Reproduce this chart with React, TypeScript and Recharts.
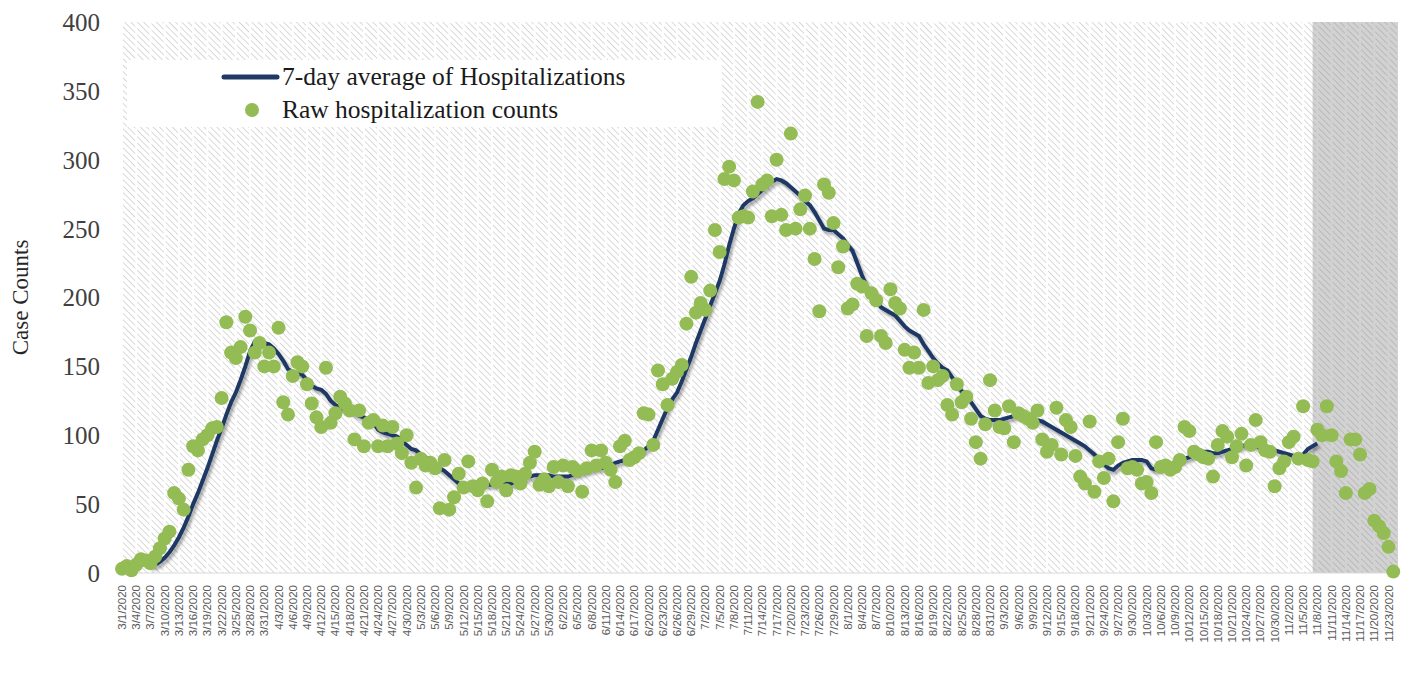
import React from 'react';
import {
  ComposedChart,
  Line,
  Scatter,
  XAxis,
  YAxis,
  CartesianGrid,
  ReferenceArea,
  Label,
} from 'recharts';

// Categories: every day from 3/1/2020 to 11/25/2020
const FIRST_DAY = { year: 2020, month: 3, day: 1 };
const DAY_COUNT = 270;
const dates: string[] = (() => {
  const out: string[] = [];
  const d = new Date(FIRST_DAY.year, FIRST_DAY.month - 1, FIRST_DAY.day, 12);
  for (let i = 0; i < DAY_COUNT; i++) {
    out.push(`${d.getMonth() + 1}/${d.getDate()}/${d.getFullYear()}`);
    d.setDate(d.getDate() + 1);
  }
  return out;
})();

// Raw hospitalization counts
const rawCounts: (number | null)[] = [
  3, 5, 2, 6, 10, 9, 7, 12, 18, 25,
  30, 58, 54, 46, 75, 92, 89, 97, 100, 105,
  106, 127, 182, 160, 156, 164, 186, 176, 160, 167,
  150, 160, 150, 178, 124, 115, 143, 153, 150, 137,
  123, 113, 106, 149, 109, 116, 128, 123, 118, 97,
  118, 92, 109, 111, 92, 107, 92, 106, 94, 87,
  100, 80, 62, 83, 78, 80, 76, 47, 82, 46,
  55, 72, 62, 81, 63, 60, 65, 52, 75, 66,
  70, 60, 71, 70, 65, 72, 80, 88, 64, 68,
  63, 77, 66, 78, 63, 77, 74, 59, 76, 89,
  78, 89, 80, 75, 66, 92, 96, 82, 84, 87,
  116, 115, 93, 147, 137, 122, 141, 146, 151, 181,
  215, 189, 196, 191, 205, 249, 233, 286, 295, 285,
  258, 259, 258, 277, 342, 282, 285, 259, 300, 260,
  249, 319, 250, 264, 274, 250, 228, 190, 282, 276,
  254, 222, 237, 192, 195, 210, 208, 172, 203, 198,
  172, 167, 206, 196, 192, 162, 149, 160, 149, 191,
  138, 150, 140, 143, 122, 115, 137, 124, 128, 112,
  95, 83, 108, 140, 118, 106, 105, 121, 95, 116,
  114, 112, 109, 118, 97, 88, 93, 120, 86, 111,
  106, 85, 70, 65, 110, 59, 81, 69, 83, 52,
  95, 112, 76, 77, 75, 65, 66, 58, 95, 77,
  78, 75, 77, 82, 106, 103, 88, 86, 84, 83,
  70, 93, 103, 99, 84, 92, 101, 78, 93, 111,
  95, 89, 88, 63, 76, 81, 95, 99, 83, 121,
  82, 81, 104, 100, 121, 100, 81, 74, 58, 97,
  97, 86, 58, 61, 38, 34, 29, 19, 1, null,
];

// 7-day average line
const avg7: (number | null)[] = [
  null, null, null, null, null, null, 5, 6, 8, 11,
  15, 20, 26, 33, 41, 50, 58, 67, 76, 86,
  96, 105, 115, 124, 131, 140, 150, 161, 168, 168,
  167, 166, 163, 159, 154, 148, 146, 145, 144, 140,
  136, 134, 133, 130, 125, 122, 120, 119, 118, 116,
  114, 113, 111, 109, 104, 102, 101, 100, 99, 96,
  93, 90, 89, 86, 84, 82, 79, 76, 74, 71,
  68, 65, 64, 64, 64, 64, 64, 64, 64, 64,
  65, 65, 65, 66, 67, 69, 70, 71, 71, 71,
  71, 70, 70, 70, 70, 71, 72, 73, 74, 75,
  76, 76, 77, 78, 80, 81, 82, 84, 86, 88,
  89, 92, 96, 104, 112, 120, 126, 131, 139, 148,
  157, 167, 176, 185, 194, 203, 212, 224, 238, 250,
  261, 267, 270, 272, 275, 278, 281, 284, 286, 285,
  283, 280, 277, 274, 270, 267, 262, 256, 250, 249,
  249, 246, 243, 238, 234, 225, 216, 208, 203, 198,
  193, 191, 189, 187, 183, 179, 176, 174, 172, 166,
  161, 156, 152, 149, 147, 142, 137, 132, 128, 124,
  119, 114, 112, 111, 111, 111, 112, 113, 114, 114,
  113, 113, 112, 111, 110, 108, 106, 104, 102, 100,
  98, 96, 94, 92, 89, 86, 82, 79, 76, 75,
  78, 80, 81, 82, 82, 82, 81, 76, 75, 76,
  77, 78, 80, 81, 83, 84, 86, 87, 88, 88,
  87, 87, 88, 89, 90, 91, 92, 93, 93, 92,
  91, 91, 90, 89, 88, 87, 86, 85, 84, 86,
  90, 92, 94, null, null, null, null, null, null, null,
  null, null, null, null, null, null, null, null, null, null,
];

const yTicks = [0, 50, 100, 150, 200, 250, 300, 350, 400];
const shadeStart = '11/7/2020';
const shadeEnd = '11/25/2020';
const seriesNames = ['7-day average of Hospitalizations', 'Raw hospitalization counts'];

const NAVY = '#1F3864';
const GREEN = '#93BC55';
const SERIF = '"Liberation Serif", "DejaVu Serif", serif';
const SANS = '"Liberation Sans", Arial, sans-serif';

const data = dates.map((date, i) => ({ date, raw: rawCounts[i], avg: avg7[i] }));

const XTick = (props: any) => {
  const { x, y, payload } = props;
  return (
    <g transform={`translate(${x},${y + 12})`}>
      <text
        x={0}
        y={0}
        dy={4}
        textAnchor="end"
        transform="rotate(-90)"
        fontSize={11.5}
        fill="#595959"
        fontFamily={SANS}
      >
        {payload.value}
      </text>
    </g>
  );
};

const RawDot = (props: any) => {
  const { cx, cy, payload } = props;
  if (payload == null || payload.raw == null || cx == null || cy == null) return <g />;
  return <circle cx={cx} cy={cy} r={7} fill={GREEN} />;
};

const LegendBox = () => (
  <div
    style={{
      position: 'absolute',
      left: 119,
      top: 52,
      width: 595,
      height: 67,
      background: '#ffffff',
    }}
  >
    <svg width={595} height={67}>
      <line x1={97} x2={150} y1={17} y2={17} stroke={NAVY} strokeWidth={5} strokeLinecap="round" />
      <text x={155} y={25} fontSize={25.5} fontFamily={SERIF} fill="#1a1a1a">
        {seriesNames[0]}
      </text>
      <circle cx={125} cy={50} r={7} fill={GREEN} />
      <text x={155} y={58} fontSize={25.5} fontFamily={SERIF} fill="#1a1a1a">
        {seriesNames[1]}
      </text>
    </svg>
  </div>
);

export default function App() {
  return (
    <div style={{ position: 'relative', width: 1408, height: 665 }}>
      <ComposedChart
        width={1408}
        height={665}
        data={data}
        margin={{ top: 14, right: 18, bottom: 0, left: 0 }}
      >
        <defs>
          <pattern
            id="hatch"
            patternUnits="userSpaceOnUse"
            width={4.5}
            height={4.5}
            patternTransform="rotate(-45)"
          >
            <rect x={0} y={0} width={4.5} height={4.5} fill="#ffffff" />
            <line x1={0} y1={0} x2={0} y2={4.5} stroke="#d0d0d0" strokeWidth={1.6} />
          </pattern>
          <filter id="lineShadow" x="-5%" y="-5%" width="110%" height="110%">
            <feDropShadow dx={2} dy={3} stdDeviation={1.8} floodColor="#000000" floodOpacity={0.35} />
          </filter>
        </defs>
        <CartesianGrid
          horizontal={false}
          vertical
          stroke="#ffffff"
          strokeWidth={2}
          fill="url(#hatch)"
          fillOpacity={1}
        />
        <XAxis
          dataKey="date"
          interval={2}
          height={100}
          tickLine={false}
          tickSize={0}
          tickMargin={0}
          axisLine={{ stroke: '#d9d9d9' }}
          tick={<XTick />}
        />
        <YAxis
          width={114}
          domain={[0, 400]}
          ticks={yTicks}
          axisLine={false}
          tickLine={false}
          tickSize={0}
          tickMargin={22}
          tick={{ fontSize: 25, fill: '#404040', fontFamily: SERIF }}
        >
          <Label
            content={(p: any) => {
              const vb = p.viewBox || { x: 0, y: 14, height: 551 };
              const cx = 12;
              const cy = vb.y + vb.height / 2;
              return (
                <text
                  x={cx}
                  y={cy}
                  transform={`rotate(-90 ${cx} ${cy})`}
                  textAnchor="middle"
                  dominantBaseline="central"
                  fontSize={23}
                  fontFamily={SERIF}
                  fill="#262626"
                >
                  Case Counts
                </text>
              );
            }}
          />
        </YAxis>
        <Line
          type="linear"
          dataKey="avg"
          stroke={NAVY}
          strokeWidth={4}
          dot={false}
          activeDot={false}
          connectNulls={false}
          filter="url(#lineShadow)"
          isAnimationActive={false}
        />
        <Scatter dataKey="raw" shape={<RawDot />} isAnimationActive={false} />
        <ReferenceArea
          x1={shadeStart}
          x2={shadeEnd}
          y1={0}
          y2={400}
          fill="#7f7f7f"
          fillOpacity={0.35}
          stroke="none"
          ifOverflow="visible"
        />
      </ComposedChart>
      <LegendBox />
    </div>
  );
}
